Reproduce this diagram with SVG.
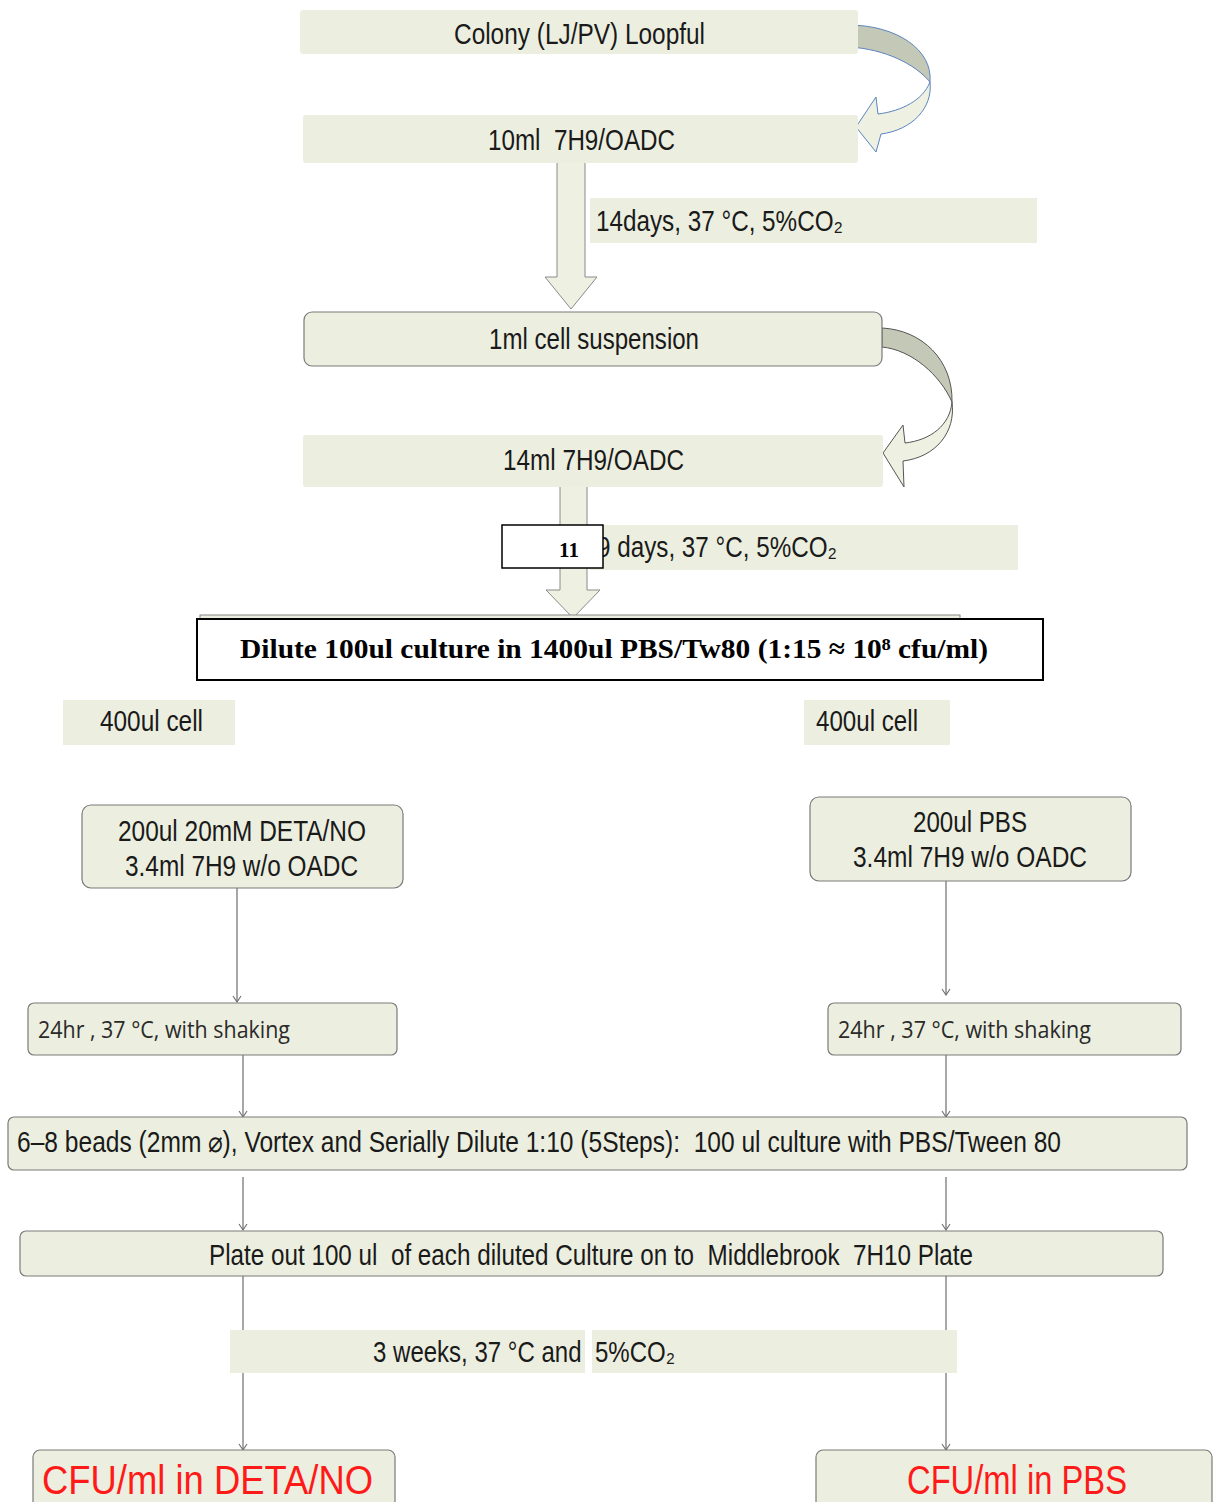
<svg xmlns="http://www.w3.org/2000/svg" width="1213" height="1502" viewBox="0 0 1213 1502">
<style>
text{white-space:pre}
.bg{fill:#ecefdf}
.box{fill:#ecefdf;stroke:#7a7a7a;stroke-width:1.2}
.t{font-family:"Liberation Sans",Arial,sans-serif;font-size:29px;fill:#1a1a1a}
.c{font-family:"Open Sans","Liberation Sans",sans-serif;font-size:24px;fill:#2a2a2a}
.red{font-family:"Liberation Sans",Arial,sans-serif;font-size:41px;fill:#ff1a1a}
.blk{fill:#eef0e2;stroke:#8a8a8a;stroke-width:1}
.ln{stroke:#6d6d6d;stroke-width:1.2;fill:none;marker-end:url(#ah)}
</style>
<defs>
<marker id="ah" markerWidth="10" markerHeight="10" refX="9" refY="5" orient="auto" markerUnits="userSpaceOnUse" viewBox="0 0 10 10">
<path d="M3,1 L9,5 L3,9" fill="none" stroke="#6d6d6d" stroke-width="1.1"/>
</marker>
</defs>
<rect width="1213" height="1502" fill="#ffffff"/>

<g id="connectors">
<path class="blk" d="M557,162 L585,162 L585,277 L597,277 L571,309 L545,277 L557,277 Z"/>
<path class="blk" d="M560,480 L587,480 L587,590 L600,590 L573,618 L546,590 L560,590 Z"/>
<path d="M848,25 C897,25 933,50 930,82 C915,64 885,49 849,47 Z" fill="#c4c8b6" stroke="#5b84c0" stroke-width="1"/>
<path d="M930,82 C933,108 912,130 881,134 L876,152 L856,127 L876,97 L878,114 C902,111 923,100 930,82 Z" fill="#eef0e2" stroke="#5b84c0" stroke-width="1"/>
<path d="M882,328 C922,330 953,360 952,402 C940,375 912,350 882,347 Z" fill="#c4c8b6" stroke="#555" stroke-width="1"/>
<path d="M952,402 C956,432 936,457 903,461 L904,487 L883,453 L903,425 L905,443 C931,440 950,425 952,402 Z" fill="#eef0e2" stroke="#555" stroke-width="1"/>
<line class="ln" x1="237" y1="888" x2="237" y2="1002"/>
<line class="ln" x1="946" y1="881" x2="946" y2="995"/>
<line class="ln" x1="243" y1="1055" x2="243" y2="1117"/>
<line class="ln" x1="946" y1="1055" x2="946" y2="1117"/>
<line class="ln" x1="243" y1="1177" x2="243" y2="1230"/>
<line class="ln" x1="946" y1="1177" x2="946" y2="1230"/>
<line class="ln" x1="243" y1="1276" x2="243" y2="1450"/>
<line class="ln" x1="946" y1="1276" x2="946" y2="1450"/>
</g>

<g id="n-colony">
<rect class="bg" x="300" y="10" width="558" height="44" rx="3"/>
<text class="t" x="454" y="44" textLength="251" lengthAdjust="spacingAndGlyphs">Colony (LJ/PV) Loopful</text>
</g>
<g id="n-10ml">
<rect class="bg" x="303" y="115" width="555" height="48" rx="3"/>
<text class="t" x="488" y="150" textLength="187" lengthAdjust="spacingAndGlyphs">10ml  7H9/OADC</text>
</g>
<g id="n-14days">
<rect class="bg" x="590" y="198" width="447" height="45"/>
<text class="t" x="596" y="231" textLength="247" lengthAdjust="spacingAndGlyphs">14days, 37 °C, 5%CO₂</text>
</g>
<g id="n-1ml">
<rect class="box" x="304" y="312" width="578" height="54" rx="8"/>
<text class="t" x="489" y="349" textLength="210" lengthAdjust="spacingAndGlyphs">1ml cell suspension</text>
</g>
<g id="n-14ml">
<rect class="bg" x="303" y="435" width="580" height="52" rx="3"/>
<text class="t" x="503" y="470" textLength="181" lengthAdjust="spacingAndGlyphs">14ml 7H9/OADC</text>
</g>
<g id="n-9days">
<rect class="bg" x="590" y="525" width="428" height="45"/>
<text class="t" x="597" y="557" textLength="240" lengthAdjust="spacingAndGlyphs">9 days, 37 °C, 5%CO₂</text>
</g>
<g id="n-11">
<rect x="502" y="525" width="101" height="43" fill="#ffffff" stroke="#000" stroke-width="1.5"/>
<text x="569" y="557" text-anchor="middle" font-family="'Liberation Serif','Times New Roman',serif" font-weight="bold" font-size="21" fill="#000">11</text>
</g>
<g id="n-dilute">
<rect x="200" y="615" width="760" height="10" fill="#ecefdf" stroke="#888" stroke-width="1"/>
<rect x="197" y="619" width="846" height="61" fill="#ffffff" stroke="#000" stroke-width="2"/>
<text x="240" y="658" font-family="'Liberation Serif','Times New Roman',serif" font-weight="bold" font-size="28" fill="#000" textLength="748" lengthAdjust="spacingAndGlyphs">Dilute 100ul culture in 1400ul PBS/Tw80 (1:15 ≈ 10⁸ cfu/ml)</text>
</g>
<g id="n-400-left">
<rect class="bg" x="63" y="700" width="172" height="45"/>
<text class="t" x="100" y="731" textLength="103" lengthAdjust="spacingAndGlyphs">400ul cell</text>
</g>
<g id="n-400-right">
<rect class="bg" x="804" y="700" width="146" height="45"/>
<text class="t" x="816" y="731" textLength="102" lengthAdjust="spacingAndGlyphs">400ul cell</text>
</g>
<g id="n-deta">
<rect class="box" x="82" y="805" width="321" height="83" rx="9"/>
<text class="t" x="118" y="841" textLength="248" lengthAdjust="spacingAndGlyphs">200ul 20mM DETA/NO</text>
<text class="t" x="125" y="876" textLength="233" lengthAdjust="spacingAndGlyphs">3.4ml 7H9 w/o OADC</text>
</g>
<g id="n-pbs">
<rect class="box" x="810" y="797" width="321" height="84" rx="9"/>
<text class="t" x="913" y="832" textLength="114" lengthAdjust="spacingAndGlyphs">200ul PBS</text>
<text class="t" x="853" y="867" textLength="234" lengthAdjust="spacingAndGlyphs">3.4ml 7H9 w/o OADC</text>
</g>
<g id="n-24-left">
<rect class="box" x="28" y="1003" width="369" height="52" rx="6"/>
<text class="c" x="38" y="1038" textLength="252" lengthAdjust="spacingAndGlyphs">24hr , 37 °C, with shaking</text>
</g>
<g id="n-24-right">
<rect class="box" x="828" y="1003" width="353" height="52" rx="6"/>
<text class="c" x="838" y="1038" textLength="253" lengthAdjust="spacingAndGlyphs">24hr , 37 °C, with shaking</text>
</g>
<g id="n-beads">
<rect class="box" x="8" y="1117" width="1179" height="53" rx="6"/>
<text class="t" x="17" y="1152" font-size="24" textLength="1044" lengthAdjust="spacingAndGlyphs">6–8 beads (2mm ⌀), Vortex and Serially Dilute 1:10 (5Steps):  100 ul culture with PBS/Tween 80</text>
</g>
<g id="n-plate">
<rect class="box" x="20" y="1231" width="1143" height="45" rx="6"/>
<text class="t" x="209" y="1265" textLength="764" lengthAdjust="spacingAndGlyphs">Plate out 100 ul  of each diluted Culture on to  Middlebrook  7H10 Plate</text>
</g>
<g id="n-3weeks">
<rect class="bg" x="230" y="1330" width="355" height="43"/>
<rect class="bg" x="592" y="1330" width="365" height="43"/>
<text class="t" x="373" y="1362" textLength="302" lengthAdjust="spacingAndGlyphs">3 weeks, 37 °C and  5%CO₂</text>
</g>
<g id="n-cfu-deta">
<rect class="box" x="33" y="1450" width="362" height="70" rx="7"/>
<text class="red" x="42" y="1494" textLength="331" lengthAdjust="spacingAndGlyphs">CFU/ml in DETA/NO</text>
</g>
<g id="n-cfu-pbs">
<rect class="box" x="816" y="1450" width="396" height="70" rx="7"/>
<text class="red" x="907" y="1494" textLength="220" lengthAdjust="spacingAndGlyphs">CFU/ml in PBS</text>
</g>
</svg>
